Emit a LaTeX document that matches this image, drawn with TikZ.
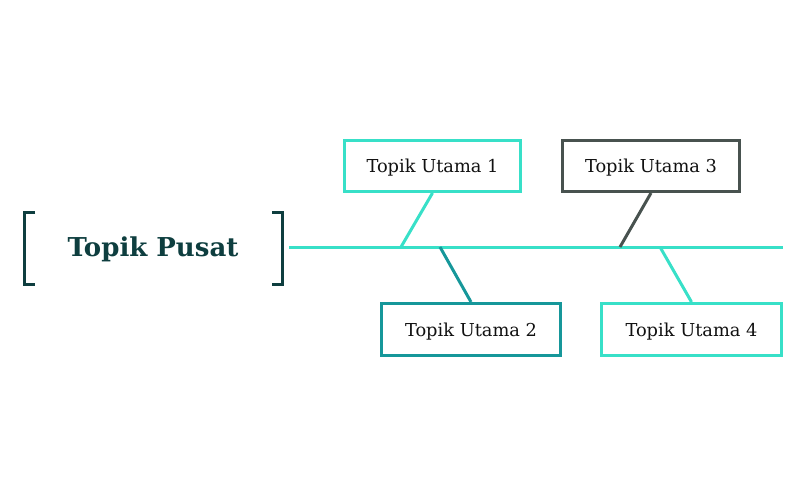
\documentclass[tikz,border=0pt]{standalone}
\usepackage{fontspec}
\setmainfont{DejaVu Serif}
\definecolor{lteal}{HTML}{38E0C8}
\definecolor{dteal}{HTML}{16979A}
\definecolor{dgrey}{HTML}{48524F}
\definecolor{dgreen}{HTML}{0E3E3F}
\definecolor{txt}{HTML}{111111}
\begin{document}
\begin{tikzpicture}[x=1pt,y=-1pt,
  topicbox/.style={draw,line width=3pt,fill=white,minimum height=51pt,inner sep=0pt,text depth=0pt,text=txt,font=\fontsize{17.8}{20}\selectfont},
  bone/.style={line width=3pt},
  bracketline/.style={line width=3pt,dgreen}]
\useasboundingbox (0,0) rectangle (800,495);
% central topic
\node[text=dgreen,font=\bfseries\fontsize{26}{30}\selectfont] (center) at (153,249) {Topik Pusat};
\draw[bracketline] (35,212) -- (24,212) -- (24,284) -- (35,284);
\draw[bracketline] (272,212) -- (282.5,212) -- (282.5,284) -- (272,284);
% spine
\coordinate (s0) at (289,247);
\coordinate (s1) at (783,247);
\draw[bone,lteal] (s0) -- (s1);
% topics
\node[topicbox,draw=lteal,minimum width=176pt] (t1) at (432.5,166) {Topik Utama 1};
\node[topicbox,draw=dgrey,minimum width=177pt] (t3) at (651,166) {Topik Utama 3};
\node[topicbox,draw=dteal,minimum width=179pt,minimum height=52pt] (t2) at (471,329.5) {Topik Utama 2};
\node[topicbox,draw=lteal,minimum width=180pt,minimum height=52pt] (t4) at (691.5,329.5) {Topik Utama 4};
\coordinate (j1) at (401,247);
\coordinate (j2) at (440,247);
\coordinate (j3) at (620,247);
\coordinate (j4) at (660,247);
\draw[bone,lteal] (t1.south) -- (j1);
\draw[bone,dteal] (j2) -- (t2.north);
\draw[bone,dgrey] (t3.south) -- (j3);
\draw[bone,lteal] (j4) -- (t4.north);
\end{tikzpicture}
\end{document}
